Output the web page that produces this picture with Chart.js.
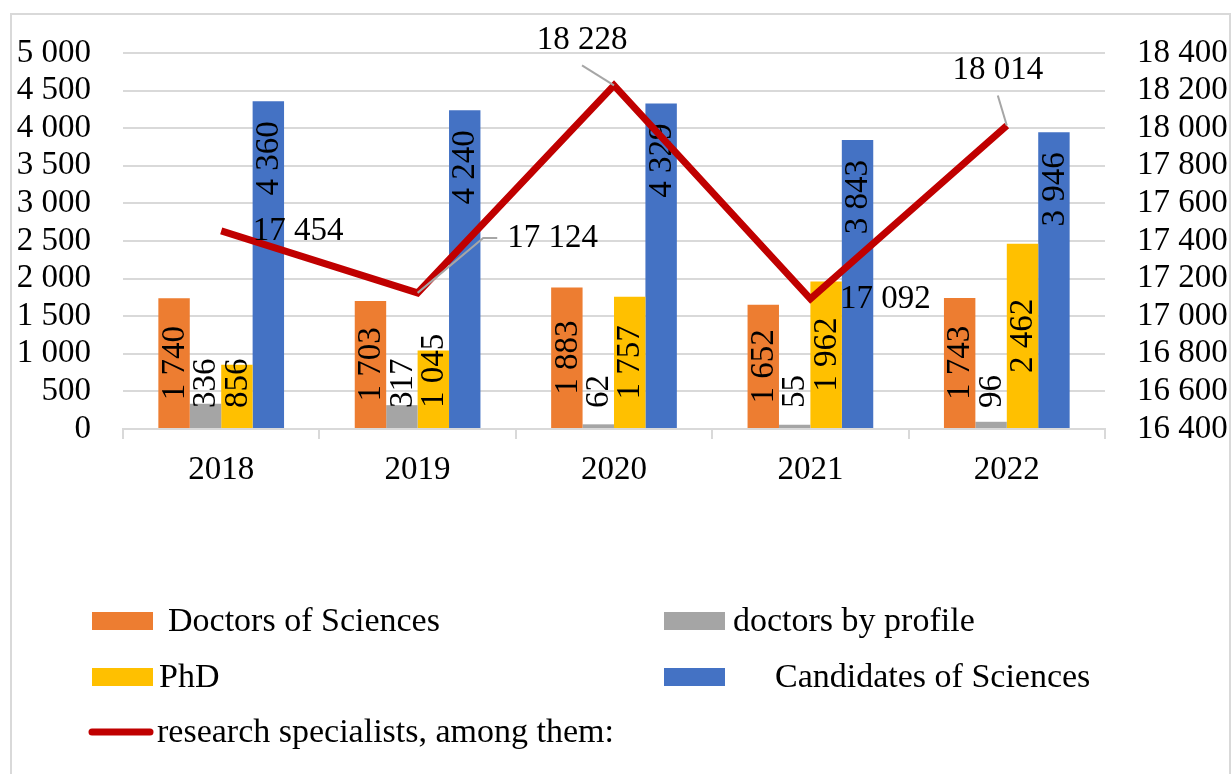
<!DOCTYPE html>
<html>
<head>
<meta charset="utf-8">
<script src="https://cdn.jsdelivr.net/npm/chart.js@4.4.1/dist/chart.umd.min.js"></script>
<style>
  html, body { margin: 0; padding: 0; background: #fff; }
  #wrap { width: 1232px; height: 774px; }
</style>
</head>
<body>
<div id="wrap"><canvas id="chart" width="1232" height="774"></canvas></div>
<script>
// data
const years = ["2018", "2019", "2020", "2021", "2022"];
const doctorsOfSciences = [1740, 1703, 1883, 1652, 1743];
const doctorsByProfile = [336, 317, 62, 55, 96];
const phd = [856, 1045, 1757, 1962, 2462];
const candidates = [4360, 4240, 4329, 3843, 3946];
const researchSpecialists = [17454, 17124, 18228, 17092, 18014];
const leftTicks = [0, 500, 1000, 1500, 2000, 2500, 3000, 3500, 4000, 4500, 5000];
const rightTicks = [16400, 16600, 16800, 17000, 17200, 17400, 17600, 17800, 18000, 18200, 18400];

const FAMILY = '"Liberation Serif", "Times New Roman", serif';
const FONT = '33px ' + FAMILY;
const LEGEND_FONT = '34px ' + FAMILY;
const GRID = '#d9d9d9';
const fmt = v => String(v).replace(/\B(?=(\d{3})+(?!\d))/g, ' ');

// label offsets for the line (centre of text relative to the point), plus leader flag
const lineLabelOffsets = [
  { dx: 77, dy: 0, leader: false },
  { dx: 135, dy: -55, leader: true, side: 'left' },
  { dx: -32, dy: -45, leader: true, side: 'bottom' },
  { dx: 75, dy: 0, leader: false },
  { dx: -9, dy: -55, leader: true, side: 'bottom' }
];

// Border round the whole chart object
const frame = {
  id: 'frame',
  beforeDraw(chart) {
    const ctx = chart.ctx;
    ctx.save();
    ctx.strokeStyle = GRID;
    ctx.lineWidth = 2;
    ctx.beginPath();
    ctx.moveTo(11, 780);
    ctx.lineTo(11, 14);
    ctx.lineTo(1230, 14);
    ctx.lineTo(1230, 780);
    ctx.stroke();
    ctx.restore();
  }
};

// vertical value labels on the bars
const barLabels = {
  id: 'barLabels',
  afterDatasetDraw(chart, args) {
    const ds = chart.data.datasets[args.index];
    if (ds.type === 'line') return;
    const ctx = chart.ctx;
    ctx.save();
    ctx.font = FONT;
    ctx.fillStyle = '#000';
    ctx.textAlign = 'center';
    ctx.textBaseline = 'middle';
    args.meta.data.forEach((bar, i) => {
      const txt = fmt(ds.data[i]);
      const w = ctx.measureText(txt).width;
      let cy;
      if (ds.labelPos === 'end') cy = bar.y + 20 + w / 2;
      else cy = Math.min((bar.y + bar.base) / 2, bar.base - 20 - w / 2);
      ctx.save();
      ctx.translate(bar.x + 1, cy);
      ctx.rotate(-Math.PI / 2);
      ctx.fillText(txt, 0, 0);
      ctx.restore();
    });
    ctx.restore();
  }
};

// labels for the line, with grey leader lines
const lineLabels = {
  id: 'lineLabels',
  afterDatasetsDraw(chart) {
    const idx = chart.data.datasets.findIndex(d => d.type === 'line');
    const meta = chart.getDatasetMeta(idx);
    const ctx = chart.ctx;
    ctx.save();
    ctx.font = FONT;
    ctx.textAlign = 'center';
    ctx.textBaseline = 'middle';
    meta.data.forEach((pt, i) => {
      const o = lineLabelOffsets[i];
      const txt = fmt(chart.data.datasets[idx].data[i]);
      const w = ctx.measureText(txt).width;
      const cx = pt.x + o.dx, cy = pt.y + o.dy;
      if (o.leader) {
        ctx.strokeStyle = '#a6a6a6';
        ctx.lineWidth = 2;
        ctx.beginPath();
        if (o.side === 'left') {
          ctx.moveTo(cx - w / 2 - 10, cy);
          ctx.lineTo(cx - w / 2 - 24, cy);
          ctx.lineTo(pt.x, pt.y);
        } else {
          ctx.moveTo(cx, cy + 25);
          ctx.lineTo(pt.x, pt.y);
        }
        ctx.stroke();
      }
      ctx.fillStyle = '#000';
      ctx.fillText(txt, cx, cy);
    });
    ctx.restore();
  }
};

// legend laid out like the original (two columns, then the line)
const legendSpots = [
  { x: 92, y: 621, tx: 168 },
  { x: 664, y: 621, tx: 733 },
  { x: 92, y: 677, tx: 159 },
  { x: 664, y: 677, tx: 775 },
  { x: 88, y: 732, tx: 157 }
];
const customLegend = {
  id: 'customLegend',
  afterDraw(chart) {
    const ctx = chart.ctx;
    ctx.save();
    ctx.font = LEGEND_FONT;
    ctx.textBaseline = 'middle';
    ctx.textAlign = 'left';
    chart.data.datasets.forEach((ds, i) => {
      const s = legendSpots[i];
      if (ds.type === 'line') {
        ctx.strokeStyle = ds.borderColor;
        ctx.lineWidth = 7;
        ctx.lineCap = 'round';
        ctx.beginPath();
        ctx.moveTo(s.x + 4, s.y);
        ctx.lineTo(s.x + 62, s.y);
        ctx.stroke();
      } else {
        ctx.fillStyle = ds.backgroundColor;
        ctx.fillRect(s.x, s.y - 9, 61, 18);
      }
      ctx.fillStyle = '#000';
      ctx.fillText(ds.label, s.tx, s.y + 1);
    });
    ctx.restore();
  }
};

const barCommon = { order: 2, barPercentage: 1, categoryPercentage: 0.64, yAxisID: 'y' };
const tickFont = { family: FAMILY, size: 33 };

new Chart(document.getElementById('chart'), {
  type: 'bar',
  data: {
    labels: years,
    datasets: [
      { ...barCommon, label: 'Doctors of Sciences', data: doctorsOfSciences, backgroundColor: '#ED7D31' },
      { ...barCommon, label: 'doctors by profile', data: doctorsByProfile, backgroundColor: '#A5A5A5' },
      { ...barCommon, label: 'PhD', data: phd, backgroundColor: '#FFC000' },
      { ...barCommon, label: 'Candidates of Sciences', data: candidates, backgroundColor: '#4472C4', labelPos: 'end' },
      {
        type: 'line', order: 1, label: 'research specialists, among them:',
        data: researchSpecialists, yAxisID: 'y1',
        borderColor: '#C00000', borderWidth: 7, pointRadius: 0, tension: 0,
        borderJoinStyle: 'miter', fill: false
      }
    ]
  },
  options: {
    responsive: false,
    animation: false,
    devicePixelRatio: 1,
    layout: { padding: { top: 53, left: 0, right: 0, bottom: 0 } },
    plugins: { legend: { display: false }, tooltip: { enabled: false } },
    scales: {
      x: {
        offset: true,
        afterFit: a => { a.height = 774 - 429; },
        grid: { offset: true, drawOnChartArea: false, drawTicks: true, tickLength: 10, color: GRID, lineWidth: 2 },
        border: { display: true, color: GRID, width: 2 },
        ticks: { font: tickFont, color: '#000', padding: 12 }
      },
      y: {
        position: 'left',
        min: leftTicks[0], max: leftTicks[leftTicks.length - 1],
        afterBuildTicks: a => { a.ticks = leftTicks.map(v => ({ value: v })); },
        afterFit: a => { a.width = 123; },
        grid: { color: GRID, lineWidth: 2, drawTicks: false },
        border: { display: false },
        ticks: { font: tickFont, color: '#000', padding: 32, autoSkip: false, callback: v => fmt(v) }
      },
      y1: {
        position: 'right',
        min: rightTicks[0], max: rightTicks[rightTicks.length - 1],
        afterBuildTicks: a => { a.ticks = rightTicks.map(v => ({ value: v })); },
        afterFit: a => { a.width = 1232 - 1105; },
        grid: { display: false, drawTicks: false },
        border: { display: false },
        ticks: { font: tickFont, color: '#000', padding: 32, autoSkip: false, callback: v => fmt(v) }
      }
    }
  },
  plugins: [frame, barLabels, lineLabels, customLegend]
});
</script>
</body>
</html>
